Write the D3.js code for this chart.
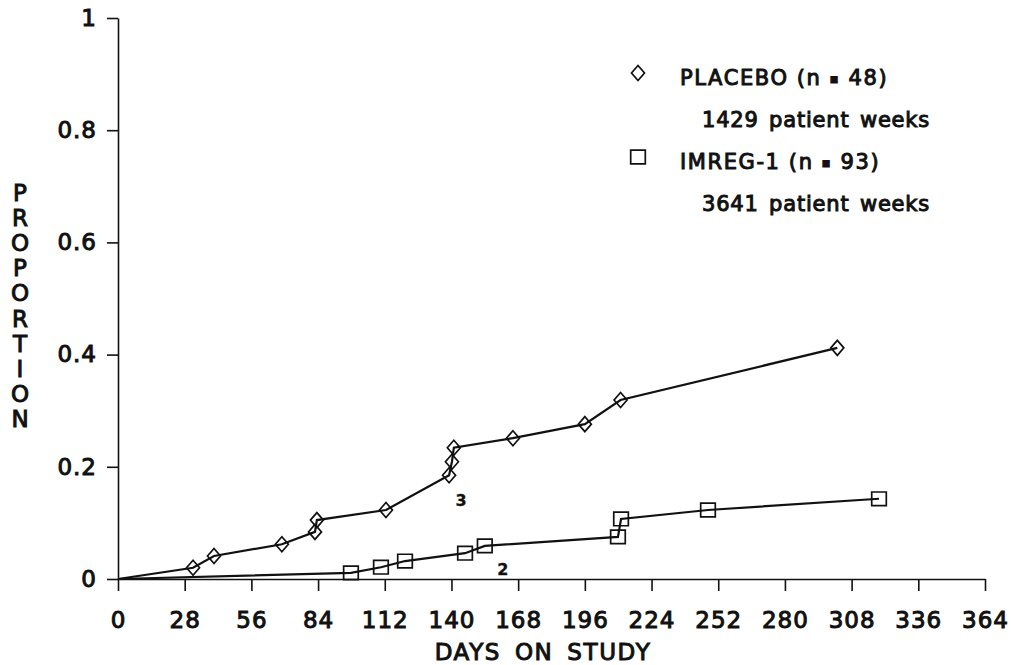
<!DOCTYPE html>
<html>
<head>
<meta charset="utf-8">
<script src="https://cdn.jsdelivr.net/npm/d3@7"></script>
<style>
  body { margin: 0; background: #fff; }
  text { font-family: "DejaVu Sans", "Liberation Sans", sans-serif; fill: #111; stroke: #111; stroke-width: 1px; }
  .axis path, .axis line { stroke: #111; stroke-width: 1.6; }
  .axis text { font-size: 23px; letter-spacing: 1px; }
</style>
</head>
<body>
<div id="chart"></div>
<script>
// Placebo (diamonds)
const placeboDays = [0, 31.5, 40.3, 68.8, 82.7, 83.5, 112.5, 139, 140.2, 141, 165.8, 196, 211, 302]
const placeboProp = [0, 0.020, 0.041, 0.062, 0.084, 0.105, 0.123, 0.185, 0.209, 0.234, 0.251, 0.276, 0.319, 0.412]

// IMREG-1 (squares)
const imregDays = [0, 97.8, 110.4, 120.5, 145.7, 154, 209.9, 211.2, 247.7, 319.5]
const imregProp = [0, 0.011, 0.021, 0.032, 0.046, 0.059, 0.075, 0.107, 0.123, 0.143]

const xTicks = [0, 28, 56, 84, 112, 140, 168, 196, 224, 252, 280, 308, 336, 364]
const yTicks = [0, 0.2, 0.4, 0.6, 0.8, 1]
const yTickLabels = ['0', '0.2', '0.4', '0.6', '0.8', '1']

const legendItems = [
  { name: 'PLACEBO', n: '48', sub: '1429 patient weeks', marker: 'diamond' },
  { name: 'IMREG-1', n: '93', sub: '3641 patient weeks', marker: 'square' }
]

// note labels near the curves
const notes = [
  { day: 144, prop: 0.130, text: '3' },
  { day: 161.6, prop: 0.007, text: '2' }
]

const width = 1011
const height = 665

// marker outlines
const markers = {
  diamond: 'M0,-7.5L6.5,0L0,7.5L-6.5,0Z',
  square: 'M-7.3,-6.8H7.3V6.8H-7.3Z'
}

const svg = d3.select('#chart')
  .append('svg')
  .attr('width', width)
  .attr('height', height)

const xScale = d3.scaleLinear().domain([0, 364]).range([118, 985])
const yScale = d3.scaleLinear().domain([0, 1]).range([579, 18])

// Bottom axis
svg.append('g')
  .attr('class', 'axis')
  .attr('transform', `translate(0, ${yScale(0)})`)
  .call(d3.axisBottom(xScale)
    .tickValues(xTicks)
    .tickSize(12)
    .tickSizeOuter(0)
    .tickPadding(21)
    .tickFormat(d3.format('d')))

// Left axis
svg.append('g')
  .attr('class', 'axis')
  .attr('transform', `translate(${xScale(0)}, 0)`)
  .call(d3.axisLeft(yScale)
    .tickValues(yTicks)
    .tickSize(11)
    .tickSizeOuter(0)
    .tickPadding(10)
    .tickFormat((d, i) => yTickLabels[i]))

// Axis titles
svg.append('text')
  .attr('x', 543)
  .attr('y', 660)
  .attr('text-anchor', 'middle')
  .style('font-size', '23px')
  .style('letter-spacing', '1.6px')
  .style('word-spacing', '5px')
  .text('DAYS ON STUDY')

const yTitle = 'PROPORTION'.split('')
svg.append('g')
  .selectAll('text')
  .data(yTitle)
  .join('text')
  .attr('x', 20)
  .attr('y', (d, i) => 201 + i * 25.1)
  .attr('text-anchor', 'middle')
  .style('font-size', '23px')
  .text(d => d)

const line = d3.line()
  .x(d => xScale(d[0]))
  .y(d => yScale(d[1]))

const series = [
  { days: placeboDays, prop: placeboProp, marker: 'diamond' },
  { days: imregDays, prop: imregProp, marker: 'square' }
]

series.forEach(s => {
  const pts = s.days.map((d, i) => [d, s.prop[i]])

  svg.append('path')
    .datum(pts)
    .attr('fill', 'none')
    .attr('stroke', '#111')
    .attr('stroke-width', 2.2)
    .attr('d', line)

  svg.append('g')
    .selectAll('path')
    .data(pts.slice(1))
    .join('path')
    .attr('transform', d => `translate(${xScale(d[0])}, ${yScale(d[1])})`)
    .attr('d', markers[s.marker])
    .attr('fill', 'none')
    .attr('stroke', '#111')
    .attr('stroke-width', 1.7)
})

svg.append('g')
  .selectAll('text')
  .data(notes)
  .join('text')
  .attr('x', d => xScale(d.day))
  .attr('y', d => yScale(d.prop))
  .attr('text-anchor', 'middle')
  .style('font-size', '16px')
  .style('font-weight', 'bold')
  .style('stroke-width', '0.3px')
  .text(d => d.text)

// Legend
const legend = svg.append('g')
legendItems.forEach((item, i) => {
  const y0 = 85 + i * 84
  legend.append('path')
    .attr('transform', `translate(638, ${y0 - 12})`)
    .attr('d', markers[item.marker])
    .attr('fill', 'none')
    .attr('stroke', '#111')
    .attr('stroke-width', 1.7)
  const t = legend.append('text')
    .attr('x', 680)
    .attr('y', y0)
    .style('font-size', '21px')
    .style('letter-spacing', '1.6px')
  t.append('tspan').text(`${item.name} (n `)
  t.append('tspan').style('font-size', '13px').attr('dy', -2).text('\u25AA')
  t.append('tspan').attr('dy', 2).text(` ${item.n})`)
  legend.append('text')
    .attr('x', 702)
    .attr('y', y0 + 42)
    .style('font-size', '21px')
    .style('letter-spacing', '0.8px')
    .style('word-spacing', '3px')
    .text(item.sub)
})
</script>
</body>
</html>
